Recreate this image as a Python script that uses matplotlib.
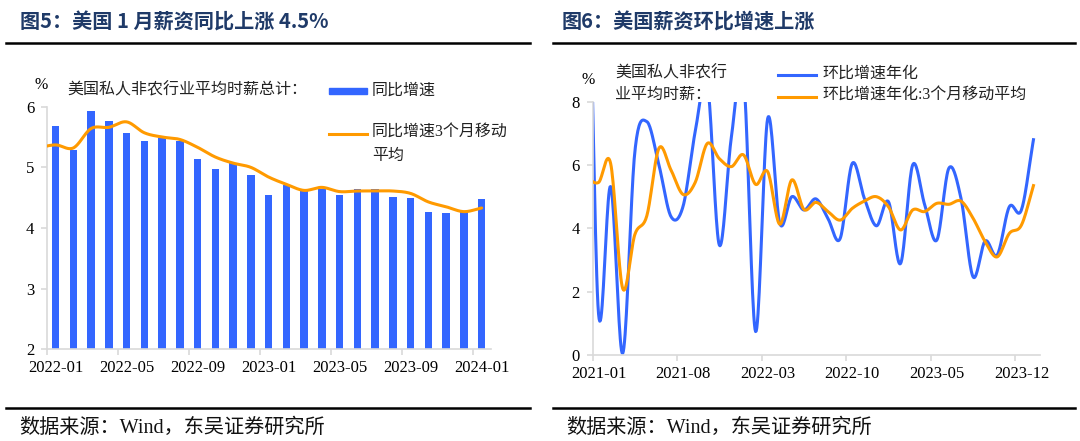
import numpy as np
import pandas as pd
import matplotlib
matplotlib.use('Agg')
import matplotlib.pyplot as plt
from matplotlib.lines import Line2D
from matplotlib.patches import Rectangle

# ---- data: left chart (2022-01 .. 2024-01), YoY %
yoy_months = pd.period_range('2022-01', '2024-01', freq='M').strftime('%Y-%m').tolist()
yoy = [5.68, 5.29, 5.93, 5.77, 5.57, 5.43, 5.48, 5.43, 5.13, 4.97, 5.07, 4.88,
       4.54, 4.71, 4.61, 4.65, 4.54, 4.64, 4.65, 4.51, 4.49, 4.26, 4.24, 4.27, 4.48]
# 3-month moving average, starts one month earlier (2021-12)
yoy_ma3 = [5.32, 5.37, 5.32, 5.64, 5.66, 5.75, 5.57, 5.50, 5.46, 5.33, 5.17, 5.07, 5.00,
           4.84, 4.72, 4.62, 4.67, 4.60, 4.61, 4.61, 4.61, 4.57, 4.43, 4.35, 4.27, 4.33]

# ---- data: right chart (2021-01 .. 2024-01), MoM annualised %
mom_months = pd.period_range('2021-01', '2024-01', freq='M').strftime('%Y-%m').tolist()
# starts at 2020-11 (two months before the axis)
mom = [2.5, 14.0, 1.3, 5.32, 0.05, 6.4, 7.37, 6.0, 4.37, 4.7, 7.05, 8.6, 3.47, 6.9, 8.8,
       0.74, 7.47, 4.16, 5.0, 4.58, 4.93, 4.3, 3.68, 6.05, 4.95, 4.08, 4.84, 2.89, 6.0,
       4.74, 3.63, 5.9, 4.95, 2.47, 3.6, 3.16, 4.68, 4.58, 6.8]
# starts at 2020-12
mom_ma3 = [5.6, 5.45, 6.05, 2.1, 3.8, 4.4, 6.53, 5.84, 5.07, 5.45, 6.68, 6.2, 5.95, 6.32,
           5.39, 5.79, 4.13, 5.53, 4.6, 4.82, 4.53, 4.26, 4.63, 4.86, 5.0, 4.68, 3.95,
           4.58, 4.53, 4.79, 4.76, 4.86, 4.32, 3.58, 3.1, 3.84, 4.1, 5.35]

BLUE = '#3366FF'
ORANGE = '#FF9A00'
GRID = '#D9D9D9'
NAVY = '#1F3A68'
W, H = 1080, 441

CJK = ['Noto Sans CJK SC', 'DejaVu Sans']
SERIF_CJK = ['Liberation Serif', 'Noto Sans CJK SC']


def fx(px):
    return px / W


def fy(py):
    return 1 - py / H


def smooth(x, y, n=20):
    # excel-like smoothed line (uniform catmull-rom)
    x = np.asarray(x, float)
    y = np.asarray(y, float)
    px = np.concatenate([[2 * x[0] - x[1]], x, [2 * x[-1] - x[-2]]])
    py = np.concatenate([[2 * y[0] - y[1]], y, [2 * y[-1] - y[-2]]])
    t = np.linspace(0, 1, n, endpoint=False)
    xs, ys = [], []
    for i in range(1, len(px) - 2):
        p0, p1, p2, p3 = py[i - 1:i + 3]
        ys.append(0.5 * (2 * p1 + (-p0 + p2) * t + (2 * p0 - 5 * p1 + 4 * p2 - p3) * t ** 2
                         + (-p0 + 3 * p1 - 3 * p2 + p3) * t ** 3))
        xs.append(px[i] + (px[i + 1] - px[i]) * t)
    xs.append([x[-1]])
    ys.append([y[-1]])
    return np.concatenate(xs), np.concatenate(ys)


def style_axes(ax):
    for s in ['top', 'right']:
        ax.spines[s].set_visible(False)
    for s in ['left', 'bottom']:
        ax.spines[s].set_color(GRID)
        ax.spines[s].set_linewidth(1.2)
    ax.tick_params(axis='both', which='major', color=GRID, length=4, width=1.2,
                   labelsize=12, pad=5)
    ax.tick_params(axis='x', which='minor', length=0, labelsize=12, pad=8)
    for lab in ax.get_xticklabels(which='both') + ax.get_yticklabels():
        lab.set_fontfamily('Liberation Serif')


fig = plt.figure(figsize=(W / 100, H / 100), dpi=100)
fig.patch.set_facecolor('white')

# ---------------- left panel ----------------
ax1 = fig.add_axes([fx(46.7), fy(349.3), (490.5 - 46.7) / W, (349.3 - 106.7) / H])
pos = np.arange(len(yoy)) + 0.5
ax1.bar(pos, yoy, width=0.42, color=BLUE, zorder=2)
ma_pos = np.arange(-1, len(yoy_ma3) - 1) + 0.5
sx, sy = smooth(ma_pos, yoy_ma3)
ax1.plot(sx, sy, color=ORANGE, lw=2.2, zorder=3, solid_capstyle='round')
ax1.set_xlim(0, len(yoy))
ax1.set_ylim(2, 6)
ax1.set_yticks([2, 3, 4, 5, 6])
ax1.set_xticks(np.arange(0, len(yoy), 4))
ax1.set_xticklabels([])
ax1.set_xticks(np.arange(0, len(yoy), 4) + 0.5, minor=True)
ax1.set_xticklabels(yoy_months[::4], minor=True)
style_axes(ax1)

# ---------------- right panel ----------------
ax2 = fig.add_axes([fx(592.5), fy(355), (1039.5 - 592.5) / W, (355 - 101.7) / H])
mpos = np.arange(-2, len(mom) - 2) + 0.5
sx, sy = smooth(mpos, mom)
ax2.plot(sx, sy, color=BLUE, lw=2.2, zorder=2)
m3pos = np.arange(-1, len(mom_ma3) - 1) + 0.5
sx, sy = smooth(m3pos, mom_ma3)
ax2.plot(sx, sy, color=ORANGE, lw=2.2, zorder=3)
ax2.set_xlim(0, len(mom_months))
ax2.set_ylim(0, 8)
ax2.set_yticks([0, 2, 4, 6, 8])
ax2.set_xticks(np.arange(0, len(mom_months), 7))
ax2.set_xticklabels([])
ax2.set_xticks(np.arange(0, len(mom_months), 7) + 0.5, minor=True)
ax2.set_xticklabels(mom_months[::7], minor=True)
style_axes(ax2)

# ---------------- titles, rules, footers ----------------
fig.text(fx(20), fy(22), '图5：美国 1 月薪资同比上涨 4.5%', fontsize=14.5, fontweight='bold',
         color=NAVY, family=CJK, va='center', ha='left')
fig.text(fx(562), fy(22), '图6：美国薪资环比增速上涨', fontsize=14.5, fontweight='bold',
         color=NAVY, family=CJK, va='center', ha='left')
for x0, x1 in [(6, 530), (553, 1075)]:
    fig.add_artist(Line2D([fx(x0), fx(x1)], [fy(42.5), fy(42.5)], color='black', lw=1.8,
                          transform=fig.transFigure))
    fig.add_artist(Line2D([fx(x0), fx(x1)], [fy(408), fy(408)], color='black', lw=1.8,
                          transform=fig.transFigure))
fig.text(fx(19), fy(428), '数据来源：Wind，东吴证券研究所', fontsize=14.5, family=SERIF_CJK,
         va='center', ha='left', color='#111111')
fig.text(fx(566), fy(428), '数据来源：Wind，东吴证券研究所', fontsize=14.5, family=SERIF_CJK,
         va='center', ha='left', color='#111111')

# ---------------- legend, left ----------------
fig.text(fx(41), fy(85), '%', fontsize=11.5, family='Liberation Serif', ha='center', va='center')
fig.text(fx(67), fy(90), '美国私人非农行业平均时薪总计：', fontsize=11.5, family=CJK,
         ha='left', va='center', color='#222222')
fig.add_artist(Rectangle((fx(328.5), fy(93.5)), (367 - 328.5) / W, 6 / H, color=BLUE,
                         transform=fig.transFigure))
fig.text(fx(372), fy(90), '同比增速', fontsize=11.5, family=CJK, ha='left', va='center',
         color='#222222')
fig.add_artist(Line2D([fx(328.5), fx(367)], [fy(133.5), fy(133.5)], color=ORANGE, lw=2.2,
                      transform=fig.transFigure))
fig.text(fx(372), fy(133), '同比增速3个月移动', fontsize=11.5, family=SERIF_CJK, ha='left',
         va='center', color='#222222')
fig.text(fx(372), fy(155), '平均', fontsize=11.5, family=CJK, ha='left', va='center',
         color='#222222')

# ---------------- legend, right ----------------
fig.text(fx(588), fy(80), '%', fontsize=11.5, family='Liberation Serif', ha='center', va='center')
fig.text(fx(615), fy(73), '美国私人非农行', fontsize=11.5, family=CJK, ha='left', va='center',
         color='#222222')
fig.text(fx(615), fy(94), '业平均时薪：', fontsize=11.5, family=CJK, ha='left', va='center',
         color='#222222')
fig.add_artist(Line2D([fx(778), fx(816)], [fy(74.5), fy(74.5)], color=BLUE, lw=2.2,
                      transform=fig.transFigure))
fig.text(fx(822), fy(73), '环比增速年化', fontsize=11.5, family=CJK, ha='left', va='center',
         color='#222222')
fig.add_artist(Line2D([fx(778), fx(816)], [fy(97), fy(97)], color=ORANGE, lw=2.2,
                      transform=fig.transFigure))
fig.text(fx(822), fy(96), '环比增速年化:3个月移动平均', fontsize=11.5, family=SERIF_CJK,
         ha='left', va='center', color='#222222')

fig.savefig('out.png', dpi=100, facecolor='white')
